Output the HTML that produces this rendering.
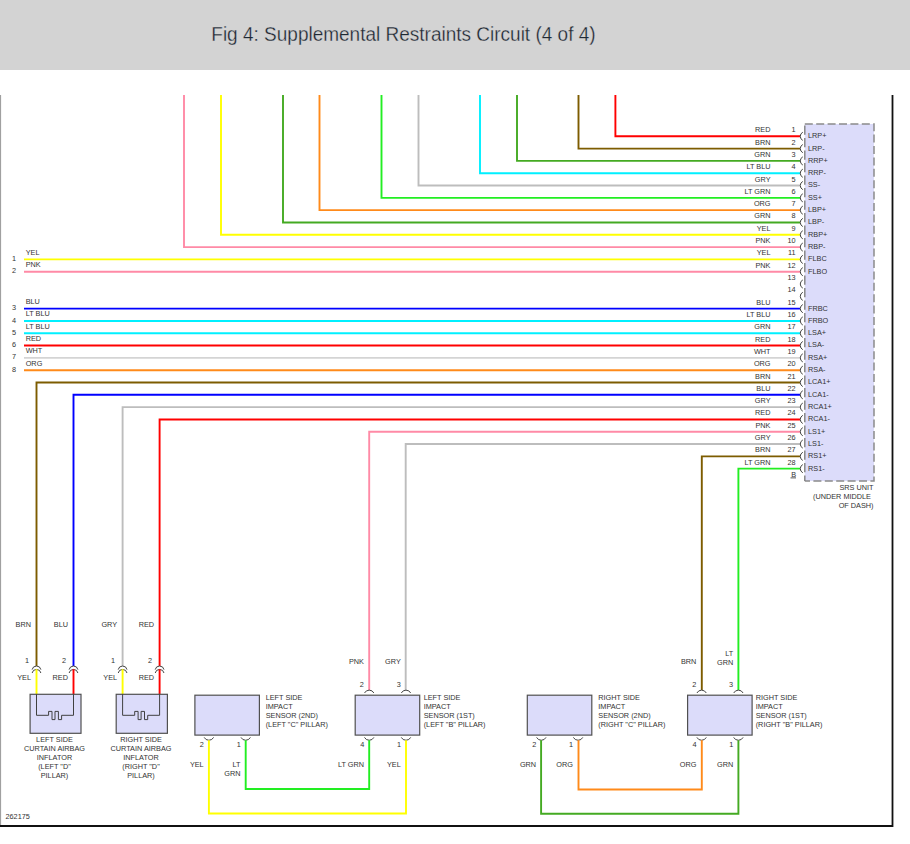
<!DOCTYPE html>
<html><head><meta charset="utf-8"><style>
html,body{margin:0;padding:0;background:#fff;width:910px;height:844px;overflow:hidden}
.hdr{position:absolute;left:0;top:0;width:910px;height:70px;background:#d3d3d3}
svg{position:absolute;left:0;top:0}
svg text{font-family:"Liberation Sans",sans-serif}
</style></head><body>
<div class="hdr"></div>
<svg width="910" height="844" viewBox="0 0 910 844">
<path d="M0.5 95 V826" stroke="#a0a0a0" stroke-width="1.2" fill="none"/>
<path d="M892.5 95 V826 H0" stroke="#111" stroke-width="1.8" fill="none"/>
<text x="211.3" y="41" font-size="20" fill="#1f2933" stroke="#d3d3d3" stroke-width="0.3" textLength="384.3" lengthAdjust="spacingAndGlyphs">Fig 4: Supplemental Restraints Circuit (4 of 4)</text>
<rect x="804.8" y="124.0" width="69.20" height="357.00" fill="#dcdcfa"/>
<path d="M804.8 124.0 H874.0 V481.0 H804.8" stroke="#8a8a8a" stroke-width="1.5" fill="none" stroke-dasharray="8 3.4"/>
<path d="M804.8 124.0 V481.0" stroke="#808080" stroke-width="1.4" fill="none" stroke-dasharray="9.3 3.2" stroke-dashoffset="11.1"/>
<path d="M800.00 136.30 L615.40 136.30 L615.40 95.00" stroke="#ff0000" stroke-width="1.9" fill="none"/>
<text x="770.50" y="132.30" text-anchor="end" font-size="7.3" fill="#333">RED</text>
<text x="795.50" y="132.30" text-anchor="end" font-size="7.3" fill="#333">1</text>
<text x="808.00" y="138.20" text-anchor="start" font-size="7.3" fill="#333">LRP+</text>
<path d="M802.8 132.20 A4.6 4.6 0 0 0 802.8 140.40" stroke="#444" stroke-width="1" fill="none"/>
<path d="M800.00 148.61 L578.50 148.61 L578.50 95.00" stroke="#7d5c00" stroke-width="1.9" fill="none"/>
<text x="770.50" y="144.61" text-anchor="end" font-size="7.3" fill="#333">BRN</text>
<text x="795.50" y="144.61" text-anchor="end" font-size="7.3" fill="#333">2</text>
<text x="808.00" y="150.51" text-anchor="start" font-size="7.3" fill="#333">LRP-</text>
<path d="M802.8 144.51 A4.6 4.6 0 0 0 802.8 152.71" stroke="#444" stroke-width="1" fill="none"/>
<path d="M800.00 160.92 L517.00 160.92 L517.00 95.00" stroke="#44aa22" stroke-width="1.9" fill="none"/>
<text x="770.50" y="156.92" text-anchor="end" font-size="7.3" fill="#333">GRN</text>
<text x="795.50" y="156.92" text-anchor="end" font-size="7.3" fill="#333">3</text>
<text x="808.00" y="162.82" text-anchor="start" font-size="7.3" fill="#333">RRP+</text>
<path d="M802.8 156.82 A4.6 4.6 0 0 0 802.8 165.02" stroke="#444" stroke-width="1" fill="none"/>
<path d="M800.00 173.23 L480.00 173.23 L480.00 95.00" stroke="#00f0ff" stroke-width="1.9" fill="none"/>
<text x="770.50" y="169.23" text-anchor="end" font-size="7.3" fill="#333">LT BLU</text>
<text x="795.50" y="169.23" text-anchor="end" font-size="7.3" fill="#333">4</text>
<text x="808.00" y="175.13" text-anchor="start" font-size="7.3" fill="#333">RRP-</text>
<path d="M802.8 169.13 A4.6 4.6 0 0 0 802.8 177.33" stroke="#444" stroke-width="1" fill="none"/>
<path d="M800.00 185.54 L418.50 185.54 L418.50 95.00" stroke="#bdbdbd" stroke-width="1.9" fill="none"/>
<text x="770.50" y="181.54" text-anchor="end" font-size="7.3" fill="#333">GRY</text>
<text x="795.50" y="181.54" text-anchor="end" font-size="7.3" fill="#333">5</text>
<text x="808.00" y="187.44" text-anchor="start" font-size="7.3" fill="#333">SS-</text>
<path d="M802.8 181.44 A4.6 4.6 0 0 0 802.8 189.64" stroke="#444" stroke-width="1" fill="none"/>
<path d="M800.00 197.85 L381.50 197.85 L381.50 95.00" stroke="#22ee22" stroke-width="1.9" fill="none"/>
<text x="770.50" y="193.85" text-anchor="end" font-size="7.3" fill="#333">LT GRN</text>
<text x="795.50" y="193.85" text-anchor="end" font-size="7.3" fill="#333">6</text>
<text x="808.00" y="199.75" text-anchor="start" font-size="7.3" fill="#333">SS+</text>
<path d="M802.8 193.75 A4.6 4.6 0 0 0 802.8 201.95" stroke="#444" stroke-width="1" fill="none"/>
<path d="M800.00 210.16 L319.50 210.16 L319.50 95.00" stroke="#ff8a1a" stroke-width="1.9" fill="none"/>
<text x="770.50" y="206.16" text-anchor="end" font-size="7.3" fill="#333">ORG</text>
<text x="795.50" y="206.16" text-anchor="end" font-size="7.3" fill="#333">7</text>
<text x="808.00" y="212.06" text-anchor="start" font-size="7.3" fill="#333">LBP+</text>
<path d="M802.8 206.06 A4.6 4.6 0 0 0 802.8 214.26" stroke="#444" stroke-width="1" fill="none"/>
<path d="M800.00 222.47 L283.00 222.47 L283.00 95.00" stroke="#44aa22" stroke-width="1.9" fill="none"/>
<text x="770.50" y="218.47" text-anchor="end" font-size="7.3" fill="#333">GRN</text>
<text x="795.50" y="218.47" text-anchor="end" font-size="7.3" fill="#333">8</text>
<text x="808.00" y="224.37" text-anchor="start" font-size="7.3" fill="#333">LBP-</text>
<path d="M802.8 218.37 A4.6 4.6 0 0 0 802.8 226.57" stroke="#444" stroke-width="1" fill="none"/>
<path d="M800.00 234.78 L221.00 234.78 L221.00 95.00" stroke="#ffff00" stroke-width="1.9" fill="none"/>
<text x="770.50" y="230.78" text-anchor="end" font-size="7.3" fill="#333">YEL</text>
<text x="795.50" y="230.78" text-anchor="end" font-size="7.3" fill="#333">9</text>
<text x="808.00" y="236.68" text-anchor="start" font-size="7.3" fill="#333">RBP+</text>
<path d="M802.8 230.68 A4.6 4.6 0 0 0 802.8 238.88" stroke="#444" stroke-width="1" fill="none"/>
<path d="M800.00 247.09 L184.00 247.09 L184.00 95.00" stroke="#ff8aa6" stroke-width="1.9" fill="none"/>
<text x="770.50" y="243.09" text-anchor="end" font-size="7.3" fill="#333">PNK</text>
<text x="795.50" y="243.09" text-anchor="end" font-size="7.3" fill="#333">10</text>
<text x="808.00" y="248.99" text-anchor="start" font-size="7.3" fill="#333">RBP-</text>
<path d="M802.8 242.99 A4.6 4.6 0 0 0 802.8 251.19" stroke="#444" stroke-width="1" fill="none"/>
<path d="M800.00 259.40 L24.00 259.40" stroke="#ffff00" stroke-width="1.9" fill="none"/>
<text x="770.50" y="255.40" text-anchor="end" font-size="7.3" fill="#333">YEL</text>
<text x="795.50" y="255.40" text-anchor="end" font-size="7.3" fill="#333">11</text>
<text x="808.00" y="261.30" text-anchor="start" font-size="7.3" fill="#333">FLBC</text>
<path d="M802.8 255.30 A4.6 4.6 0 0 0 802.8 263.50" stroke="#444" stroke-width="1" fill="none"/>
<path d="M800.00 271.71 L24.00 271.71" stroke="#ff8aa6" stroke-width="1.9" fill="none"/>
<text x="770.50" y="267.71" text-anchor="end" font-size="7.3" fill="#333">PNK</text>
<text x="795.50" y="267.71" text-anchor="end" font-size="7.3" fill="#333">12</text>
<text x="808.00" y="273.61" text-anchor="start" font-size="7.3" fill="#333">FLBO</text>
<path d="M802.8 267.61 A4.6 4.6 0 0 0 802.8 275.81" stroke="#444" stroke-width="1" fill="none"/>
<text x="770.50" y="280.02" text-anchor="end" font-size="7.3" fill="#333"></text>
<text x="795.50" y="280.02" text-anchor="end" font-size="7.3" fill="#333">13</text>
<path d="M802.8 279.92 A4.6 4.6 0 0 0 802.8 288.12" stroke="#444" stroke-width="1" fill="none"/>
<text x="770.50" y="292.33" text-anchor="end" font-size="7.3" fill="#333"></text>
<text x="795.50" y="292.33" text-anchor="end" font-size="7.3" fill="#333">14</text>
<path d="M802.8 292.23 A4.6 4.6 0 0 0 802.8 300.43" stroke="#444" stroke-width="1" fill="none"/>
<path d="M800.00 308.64 L24.00 308.64" stroke="#0000ff" stroke-width="1.9" fill="none"/>
<text x="770.50" y="304.64" text-anchor="end" font-size="7.3" fill="#333">BLU</text>
<text x="795.50" y="304.64" text-anchor="end" font-size="7.3" fill="#333">15</text>
<text x="808.00" y="310.54" text-anchor="start" font-size="7.3" fill="#333">FRBC</text>
<path d="M802.8 304.54 A4.6 4.6 0 0 0 802.8 312.74" stroke="#444" stroke-width="1" fill="none"/>
<path d="M800.00 320.95 L24.00 320.95" stroke="#00f0ff" stroke-width="1.9" fill="none"/>
<text x="770.50" y="316.95" text-anchor="end" font-size="7.3" fill="#333">LT BLU</text>
<text x="795.50" y="316.95" text-anchor="end" font-size="7.3" fill="#333">16</text>
<text x="808.00" y="322.85" text-anchor="start" font-size="7.3" fill="#333">FRBO</text>
<path d="M802.8 316.85 A4.6 4.6 0 0 0 802.8 325.05" stroke="#444" stroke-width="1" fill="none"/>
<path d="M800.00 333.26 L24.00 333.26" stroke="#00f0ff" stroke-width="1.9" fill="none"/>
<text x="770.50" y="329.26" text-anchor="end" font-size="7.3" fill="#333">GRN</text>
<text x="795.50" y="329.26" text-anchor="end" font-size="7.3" fill="#333">17</text>
<text x="808.00" y="335.16" text-anchor="start" font-size="7.3" fill="#333">LSA+</text>
<path d="M802.8 329.16 A4.6 4.6 0 0 0 802.8 337.36" stroke="#444" stroke-width="1" fill="none"/>
<path d="M800.00 345.57 L24.00 345.57" stroke="#ff0000" stroke-width="1.9" fill="none"/>
<text x="770.50" y="341.57" text-anchor="end" font-size="7.3" fill="#333">RED</text>
<text x="795.50" y="341.57" text-anchor="end" font-size="7.3" fill="#333">18</text>
<text x="808.00" y="347.47" text-anchor="start" font-size="7.3" fill="#333">LSA-</text>
<path d="M802.8 341.47 A4.6 4.6 0 0 0 802.8 349.67" stroke="#444" stroke-width="1" fill="none"/>
<path d="M800.00 357.88 L24.00 357.88" stroke="#d4d4d4" stroke-width="1.9" fill="none"/>
<text x="770.50" y="353.88" text-anchor="end" font-size="7.3" fill="#333">WHT</text>
<text x="795.50" y="353.88" text-anchor="end" font-size="7.3" fill="#333">19</text>
<text x="808.00" y="359.78" text-anchor="start" font-size="7.3" fill="#333">RSA+</text>
<path d="M802.8 353.78 A4.6 4.6 0 0 0 802.8 361.98" stroke="#444" stroke-width="1" fill="none"/>
<path d="M800.00 370.19 L24.00 370.19" stroke="#ff8a1a" stroke-width="1.9" fill="none"/>
<text x="770.50" y="366.19" text-anchor="end" font-size="7.3" fill="#333">ORG</text>
<text x="795.50" y="366.19" text-anchor="end" font-size="7.3" fill="#333">20</text>
<text x="808.00" y="372.09" text-anchor="start" font-size="7.3" fill="#333">RSA-</text>
<path d="M802.8 366.09 A4.6 4.6 0 0 0 802.8 374.29" stroke="#444" stroke-width="1" fill="none"/>
<path d="M800.00 382.50 L36.50 382.50 L36.50 666.00" stroke="#7d5c00" stroke-width="1.9" fill="none"/>
<text x="770.50" y="378.50" text-anchor="end" font-size="7.3" fill="#333">BRN</text>
<text x="795.50" y="378.50" text-anchor="end" font-size="7.3" fill="#333">21</text>
<text x="808.00" y="384.40" text-anchor="start" font-size="7.3" fill="#333">LCA1+</text>
<path d="M802.8 378.40 A4.6 4.6 0 0 0 802.8 386.60" stroke="#444" stroke-width="1" fill="none"/>
<path d="M800.00 394.81 L73.50 394.81 L73.50 666.00" stroke="#0000ff" stroke-width="1.9" fill="none"/>
<text x="770.50" y="390.81" text-anchor="end" font-size="7.3" fill="#333">BLU</text>
<text x="795.50" y="390.81" text-anchor="end" font-size="7.3" fill="#333">22</text>
<text x="808.00" y="396.71" text-anchor="start" font-size="7.3" fill="#333">LCA1-</text>
<path d="M802.8 390.71 A4.6 4.6 0 0 0 802.8 398.91" stroke="#444" stroke-width="1" fill="none"/>
<path d="M800.00 407.12 L122.60 407.12 L122.60 666.00" stroke="#bdbdbd" stroke-width="1.9" fill="none"/>
<text x="770.50" y="403.12" text-anchor="end" font-size="7.3" fill="#333">GRY</text>
<text x="795.50" y="403.12" text-anchor="end" font-size="7.3" fill="#333">23</text>
<text x="808.00" y="409.02" text-anchor="start" font-size="7.3" fill="#333">RCA1+</text>
<path d="M802.8 403.02 A4.6 4.6 0 0 0 802.8 411.22" stroke="#444" stroke-width="1" fill="none"/>
<path d="M800.00 419.43 L159.60 419.43 L159.60 666.00" stroke="#ff0000" stroke-width="1.9" fill="none"/>
<text x="770.50" y="415.43" text-anchor="end" font-size="7.3" fill="#333">RED</text>
<text x="795.50" y="415.43" text-anchor="end" font-size="7.3" fill="#333">24</text>
<text x="808.00" y="421.33" text-anchor="start" font-size="7.3" fill="#333">RCA1-</text>
<path d="M802.8 415.33 A4.6 4.6 0 0 0 802.8 423.53" stroke="#444" stroke-width="1" fill="none"/>
<path d="M800.00 431.74 L369.20 431.74 L369.20 690.00" stroke="#ff8aa6" stroke-width="1.9" fill="none"/>
<text x="770.50" y="427.74" text-anchor="end" font-size="7.3" fill="#333">PNK</text>
<text x="795.50" y="427.74" text-anchor="end" font-size="7.3" fill="#333">25</text>
<text x="808.00" y="433.64" text-anchor="start" font-size="7.3" fill="#333">LS1+</text>
<path d="M802.8 427.64 A4.6 4.6 0 0 0 802.8 435.84" stroke="#444" stroke-width="1" fill="none"/>
<path d="M800.00 444.05 L405.70 444.05 L405.70 690.00" stroke="#bdbdbd" stroke-width="1.9" fill="none"/>
<text x="770.50" y="440.05" text-anchor="end" font-size="7.3" fill="#333">GRY</text>
<text x="795.50" y="440.05" text-anchor="end" font-size="7.3" fill="#333">26</text>
<text x="808.00" y="445.95" text-anchor="start" font-size="7.3" fill="#333">LS1-</text>
<path d="M802.8 439.95 A4.6 4.6 0 0 0 802.8 448.15" stroke="#444" stroke-width="1" fill="none"/>
<path d="M800.00 456.36 L701.80 456.36 L701.80 690.00" stroke="#7d5c00" stroke-width="1.9" fill="none"/>
<text x="770.50" y="452.36" text-anchor="end" font-size="7.3" fill="#333">BRN</text>
<text x="795.50" y="452.36" text-anchor="end" font-size="7.3" fill="#333">27</text>
<text x="808.00" y="458.26" text-anchor="start" font-size="7.3" fill="#333">RS1+</text>
<path d="M802.8 452.26 A4.6 4.6 0 0 0 802.8 460.46" stroke="#444" stroke-width="1" fill="none"/>
<path d="M800.00 468.67 L738.40 468.67 L738.40 690.00" stroke="#22ee22" stroke-width="1.9" fill="none"/>
<text x="770.50" y="464.67" text-anchor="end" font-size="7.3" fill="#333">LT GRN</text>
<text x="795.50" y="464.67" text-anchor="end" font-size="7.3" fill="#333">28</text>
<text x="808.00" y="470.57" text-anchor="start" font-size="7.3" fill="#333">RS1-</text>
<path d="M802.8 464.57 A4.6 4.6 0 0 0 802.8 472.77" stroke="#444" stroke-width="1" fill="none"/>
<text x="796.00" y="477.08" text-anchor="end" font-size="7.3" fill="#333">B</text>
<path d="M790.5 477.88 H796" stroke="#444" stroke-width="0.9"/>
<text x="873.50" y="490.00" text-anchor="end" font-size="7.3" fill="#333">SRS UNIT</text>
<text x="871.00" y="499.00" text-anchor="end" font-size="7.3" fill="#333">(UNDER MIDDLE</text>
<text x="873.50" y="508.00" text-anchor="end" font-size="7.3" fill="#333">OF DASH)</text>
<text x="14.00" y="261.00" text-anchor="middle" font-size="7.3" fill="#333">1</text>
<text x="25.70" y="254.90" text-anchor="start" font-size="7.3" fill="#333">YEL</text>
<text x="14.00" y="273.31" text-anchor="middle" font-size="7.3" fill="#333">2</text>
<text x="25.70" y="267.21" text-anchor="start" font-size="7.3" fill="#333">PNK</text>
<text x="14.00" y="310.24" text-anchor="middle" font-size="7.3" fill="#333">3</text>
<text x="25.70" y="304.14" text-anchor="start" font-size="7.3" fill="#333">BLU</text>
<text x="14.00" y="322.55" text-anchor="middle" font-size="7.3" fill="#333">4</text>
<text x="25.70" y="316.45" text-anchor="start" font-size="7.3" fill="#333">LT BLU</text>
<text x="14.00" y="334.86" text-anchor="middle" font-size="7.3" fill="#333">5</text>
<text x="25.70" y="328.76" text-anchor="start" font-size="7.3" fill="#333">LT BLU</text>
<text x="14.00" y="347.17" text-anchor="middle" font-size="7.3" fill="#333">6</text>
<text x="25.70" y="341.07" text-anchor="start" font-size="7.3" fill="#333">RED</text>
<text x="14.00" y="359.48" text-anchor="middle" font-size="7.3" fill="#333">7</text>
<text x="25.70" y="353.38" text-anchor="start" font-size="7.3" fill="#333">WHT</text>
<text x="14.00" y="371.79" text-anchor="middle" font-size="7.3" fill="#333">8</text>
<text x="25.70" y="365.69" text-anchor="start" font-size="7.3" fill="#333">ORG</text>
<text x="31.00" y="627.00" text-anchor="end" font-size="7.3" fill="#333">BRN</text>
<text x="27.00" y="663.00" text-anchor="middle" font-size="7.3" fill="#333">1</text>
<text x="68.00" y="627.00" text-anchor="end" font-size="7.3" fill="#333">BLU</text>
<text x="64.00" y="663.00" text-anchor="middle" font-size="7.3" fill="#333">2</text>
<path d="M32.1 669.6 A4.5 4.5 0 0 1 40.9 669.6" stroke="#444" stroke-width="1" fill="none"/>
<path d="M32.1 673.0 A4.5 4.5 0 0 1 40.9 673.0" stroke="#444" stroke-width="1" fill="none"/>
<path d="M69.1 669.6 A4.5 4.5 0 0 1 77.9 669.6" stroke="#444" stroke-width="1" fill="none"/>
<path d="M69.1 673.0 A4.5 4.5 0 0 1 77.9 673.0" stroke="#444" stroke-width="1" fill="none"/>
<text x="31.00" y="680.00" text-anchor="end" font-size="7.3" fill="#333">YEL</text>
<path d="M36.50 669.20 L36.50 694.30" stroke="#ffff00" stroke-width="1.9" fill="none"/>
<text x="68.00" y="680.00" text-anchor="end" font-size="7.3" fill="#333">RED</text>
<path d="M73.50 669.20 L73.50 694.30" stroke="#ff0000" stroke-width="1.9" fill="none"/>
<rect x="30.1" y="694.3" width="50.9" height="39" fill="#dcdcfa" stroke="#505050" stroke-width="1.2"/>
<path d="M36.5 694.3 V715.3 H48.6 V711.4 H52.0 V719.6 H55.0 V711.4 H58.4 V719.6 H61.6 V715.3 H73.5 V694.3" stroke="#404040" stroke-width="1" fill="none"/>
<text x="54.50" y="742.00" text-anchor="middle" font-size="7.3" fill="#333">LEFT SIDE</text>
<text x="54.50" y="751.10" text-anchor="middle" font-size="7.3" fill="#333">CURTAIN AIRBAG</text>
<text x="54.50" y="760.20" text-anchor="middle" font-size="7.3" fill="#333">INFLATOR</text>
<text x="54.50" y="769.30" text-anchor="middle" font-size="7.3" fill="#333">(LEFT &quot;D&quot;</text>
<text x="54.50" y="778.40" text-anchor="middle" font-size="7.3" fill="#333">PILLAR)</text>
<text x="117.10" y="627.00" text-anchor="end" font-size="7.3" fill="#333">GRY</text>
<text x="113.10" y="663.00" text-anchor="middle" font-size="7.3" fill="#333">1</text>
<text x="154.10" y="627.00" text-anchor="end" font-size="7.3" fill="#333">RED</text>
<text x="150.10" y="663.00" text-anchor="middle" font-size="7.3" fill="#333">2</text>
<path d="M118.19999999999999 669.6 A4.5 4.5 0 0 1 127.0 669.6" stroke="#444" stroke-width="1" fill="none"/>
<path d="M118.19999999999999 673.0 A4.5 4.5 0 0 1 127.0 673.0" stroke="#444" stroke-width="1" fill="none"/>
<path d="M155.2 669.6 A4.5 4.5 0 0 1 164.0 669.6" stroke="#444" stroke-width="1" fill="none"/>
<path d="M155.2 673.0 A4.5 4.5 0 0 1 164.0 673.0" stroke="#444" stroke-width="1" fill="none"/>
<text x="117.10" y="680.00" text-anchor="end" font-size="7.3" fill="#333">YEL</text>
<path d="M122.60 669.20 L122.60 694.30" stroke="#ffff00" stroke-width="1.9" fill="none"/>
<text x="154.10" y="680.00" text-anchor="end" font-size="7.3" fill="#333">RED</text>
<path d="M159.60 669.20 L159.60 694.30" stroke="#ff0000" stroke-width="1.9" fill="none"/>
<rect x="116.2" y="694.3" width="51.2" height="39" fill="#dcdcfa" stroke="#505050" stroke-width="1.2"/>
<path d="M122.6 694.3 V715.3 H134.7 V711.4 H138.1 V719.6 H141.1 V711.4 H144.5 V719.6 H147.7 V715.3 H159.6 V694.3" stroke="#404040" stroke-width="1" fill="none"/>
<text x="141.00" y="742.00" text-anchor="middle" font-size="7.3" fill="#333">RIGHT SIDE</text>
<text x="141.00" y="751.10" text-anchor="middle" font-size="7.3" fill="#333">CURTAIN AIRBAG</text>
<text x="141.00" y="760.20" text-anchor="middle" font-size="7.3" fill="#333">INFLATOR</text>
<text x="141.00" y="769.30" text-anchor="middle" font-size="7.3" fill="#333">(RIGHT &quot;D&quot;</text>
<text x="141.00" y="778.40" text-anchor="middle" font-size="7.3" fill="#333">PILLAR)</text>
<rect x="194.9" y="695.2" width="64.5" height="39.9" fill="#dcdcfa" stroke="#505050" stroke-width="1.2"/>
<path d="M204.20 737.4 A5.3 5.3 0 0 0 213.60 737.4" stroke="#444" stroke-width="1" fill="none"/>
<text x="201.90" y="747.00" text-anchor="middle" font-size="7.3" fill="#333">2</text>
<text x="203.70" y="767.00" text-anchor="end" font-size="7.3" fill="#333">YEL</text>
<path d="M241.00 737.4 A5.3 5.3 0 0 0 250.40 737.4" stroke="#444" stroke-width="1" fill="none"/>
<text x="238.70" y="747.00" text-anchor="middle" font-size="7.3" fill="#333">1</text>
<text x="240.50" y="767.00" text-anchor="end" font-size="7.3" fill="#333">LT</text>
<text x="240.50" y="776.00" text-anchor="end" font-size="7.3" fill="#333">GRN</text>
<text x="265.70" y="700.30" text-anchor="start" font-size="7.3" fill="#333">LEFT SIDE</text>
<text x="265.70" y="709.35" text-anchor="start" font-size="7.3" fill="#333">IMPACT</text>
<text x="265.70" y="718.40" text-anchor="start" font-size="7.3" fill="#333">SENSOR (2ND)</text>
<text x="265.70" y="727.45" text-anchor="start" font-size="7.3" fill="#333">(LEFT &quot;C&quot; PILLAR)</text>
<rect x="355.2" y="695.2" width="64.5" height="39.9" fill="#dcdcfa" stroke="#505050" stroke-width="1.2"/>
<path d="M364.50 693 A5.3 5.3 0 0 1 373.90 693" stroke="#444" stroke-width="1" fill="none"/>
<text x="361.90" y="687.10" text-anchor="middle" font-size="7.3" fill="#333">2</text>
<text x="364.00" y="664.00" text-anchor="end" font-size="7.3" fill="#333">PNK</text>
<path d="M401.30 693 A5.3 5.3 0 0 1 410.70 693" stroke="#444" stroke-width="1" fill="none"/>
<text x="398.70" y="687.10" text-anchor="middle" font-size="7.3" fill="#333">3</text>
<text x="400.80" y="664.00" text-anchor="end" font-size="7.3" fill="#333">GRY</text>
<path d="M364.50 737.4 A5.3 5.3 0 0 0 373.90 737.4" stroke="#444" stroke-width="1" fill="none"/>
<text x="362.20" y="747.00" text-anchor="middle" font-size="7.3" fill="#333">4</text>
<text x="364.00" y="767.00" text-anchor="end" font-size="7.3" fill="#333">LT GRN</text>
<path d="M401.30 737.4 A5.3 5.3 0 0 0 410.70 737.4" stroke="#444" stroke-width="1" fill="none"/>
<text x="399.00" y="747.00" text-anchor="middle" font-size="7.3" fill="#333">1</text>
<text x="400.80" y="767.00" text-anchor="end" font-size="7.3" fill="#333">YEL</text>
<text x="423.70" y="700.30" text-anchor="start" font-size="7.3" fill="#333">LEFT SIDE</text>
<text x="423.70" y="709.35" text-anchor="start" font-size="7.3" fill="#333">IMPACT</text>
<text x="423.70" y="718.40" text-anchor="start" font-size="7.3" fill="#333">SENSOR (1ST)</text>
<text x="423.70" y="727.45" text-anchor="start" font-size="7.3" fill="#333">(LEFT &quot;B&quot; PILLAR)</text>
<rect x="527.3" y="695.2" width="64.5" height="39.9" fill="#dcdcfa" stroke="#505050" stroke-width="1.2"/>
<path d="M536.60 737.4 A5.3 5.3 0 0 0 546.00 737.4" stroke="#444" stroke-width="1" fill="none"/>
<text x="534.30" y="747.00" text-anchor="middle" font-size="7.3" fill="#333">2</text>
<text x="536.10" y="767.00" text-anchor="end" font-size="7.3" fill="#333">GRN</text>
<path d="M573.40 737.4 A5.3 5.3 0 0 0 582.80 737.4" stroke="#444" stroke-width="1" fill="none"/>
<text x="571.10" y="747.00" text-anchor="middle" font-size="7.3" fill="#333">1</text>
<text x="572.90" y="767.00" text-anchor="end" font-size="7.3" fill="#333">ORG</text>
<text x="598.30" y="700.30" text-anchor="start" font-size="7.3" fill="#333">RIGHT SIDE</text>
<text x="598.30" y="709.35" text-anchor="start" font-size="7.3" fill="#333">IMPACT</text>
<text x="598.30" y="718.40" text-anchor="start" font-size="7.3" fill="#333">SENSOR (2ND)</text>
<text x="598.30" y="727.45" text-anchor="start" font-size="7.3" fill="#333">(RIGHT &quot;C&quot; PILLAR)</text>
<rect x="687.6" y="695.2" width="64.5" height="39.9" fill="#dcdcfa" stroke="#505050" stroke-width="1.2"/>
<path d="M696.90 693 A5.3 5.3 0 0 1 706.30 693" stroke="#444" stroke-width="1" fill="none"/>
<text x="694.30" y="687.10" text-anchor="middle" font-size="7.3" fill="#333">2</text>
<text x="696.40" y="664.00" text-anchor="end" font-size="7.3" fill="#333">BRN</text>
<path d="M733.70 693 A5.3 5.3 0 0 1 743.10 693" stroke="#444" stroke-width="1" fill="none"/>
<text x="731.10" y="687.10" text-anchor="middle" font-size="7.3" fill="#333">3</text>
<text x="733.20" y="655.80" text-anchor="end" font-size="7.3" fill="#333">LT</text>
<text x="733.20" y="664.90" text-anchor="end" font-size="7.3" fill="#333">GRN</text>
<path d="M696.90 737.4 A5.3 5.3 0 0 0 706.30 737.4" stroke="#444" stroke-width="1" fill="none"/>
<text x="694.60" y="747.00" text-anchor="middle" font-size="7.3" fill="#333">4</text>
<text x="696.40" y="767.00" text-anchor="end" font-size="7.3" fill="#333">ORG</text>
<path d="M733.70 737.4 A5.3 5.3 0 0 0 743.10 737.4" stroke="#444" stroke-width="1" fill="none"/>
<text x="731.40" y="747.00" text-anchor="middle" font-size="7.3" fill="#333">1</text>
<text x="733.20" y="767.00" text-anchor="end" font-size="7.3" fill="#333">GRN</text>
<text x="755.70" y="700.30" text-anchor="start" font-size="7.3" fill="#333">RIGHT SIDE</text>
<text x="755.70" y="709.35" text-anchor="start" font-size="7.3" fill="#333">IMPACT</text>
<text x="755.70" y="718.40" text-anchor="start" font-size="7.3" fill="#333">SENSOR (1ST)</text>
<text x="755.70" y="727.45" text-anchor="start" font-size="7.3" fill="#333">(RIGHT &quot;B&quot; PILLAR)</text>
<path d="M208.90 740.20 L208.90 813.50 L406.00 813.50 L406.00 740.20" stroke="#ffff00" stroke-width="1.9" fill="none"/>
<path d="M245.70 740.20 L245.70 789.00 L369.20 789.00 L369.20 740.20" stroke="#22ee22" stroke-width="1.9" fill="none"/>
<path d="M541.10 740.20 L541.10 813.80 L738.40 813.80 L738.40 740.20" stroke="#44aa22" stroke-width="1.9" fill="none"/>
<path d="M578.50 740.20 L578.50 789.50 L701.80 789.50 L701.80 740.20" stroke="#ff8a1a" stroke-width="1.9" fill="none"/>
<text x="5.50" y="819.10" text-anchor="start" font-size="7.3" fill="#333">262175</text>
</svg>
</body></html>
